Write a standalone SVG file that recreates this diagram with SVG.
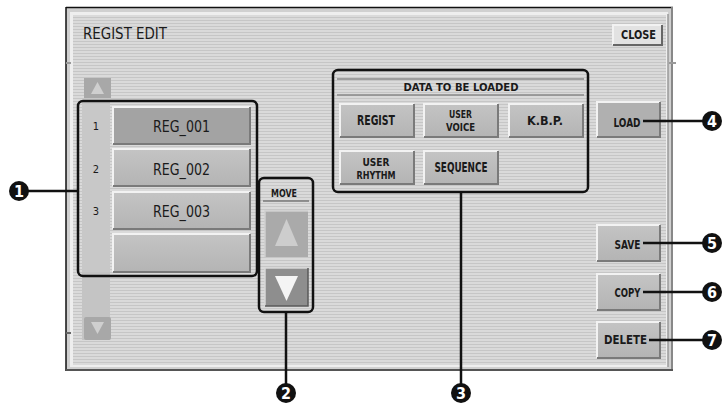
<svg xmlns="http://www.w3.org/2000/svg" width="723" height="411" viewBox="0 0 723 411">
<defs>
<pattern id="stripes" width="4" height="3" patternUnits="userSpaceOnUse">
<rect width="4" height="3" fill="#dadada"/>
<rect y="2" width="4" height="1" fill="#c6c6c6"/>
</pattern>
<linearGradient id="btn" x1="0" y1="0" x2="0" y2="1">
<stop offset="0" stop-color="#c4c4c4"/><stop offset="1" stop-color="#b4b4b4"/>
</linearGradient>
</defs>
<style>
.btn{fill:url(#btn);stroke:none}
.hl{fill:none;stroke:#f2f2f2;stroke-width:2}
.sh{fill:none;stroke:#7a7a7a;stroke-width:2}
.lbl{font-family:"DejaVu Sans Condensed","DejaVu Sans",sans-serif;font-weight:bold;fill:#1a1a1a;text-anchor:middle}
.reg{font-family:"DejaVu Sans Condensed","DejaVu Sans",sans-serif;fill:#1a1a1a;text-anchor:middle;font-size:15px}
.num{font-family:"DejaVu Sans Condensed","DejaVu Sans",sans-serif;fill:#1a1a1a;text-anchor:middle;font-size:11px}
.grp{fill:none;stroke:#111;stroke-width:2.5}
.conn{stroke:#111;stroke-width:2.5;fill:none}
.callout circle{fill:#111}
.callout text{font-family:"DejaVu Sans Condensed","Liberation Sans",sans-serif;font-weight:bold;font-size:16px;fill:#fff;text-anchor:middle}
</style>
<rect width="723" height="411" fill="#fff"/>
<!-- panel -->
<g id="panel">
<rect x="66" y="7" width="607" height="364" fill="#d0d0d0"/>
<line x1="66" y1="7" x2="66" y2="371" stroke="#111" stroke-width="1.5"/>
<line x1="66" y1="7.5" x2="673" y2="7.5" stroke="#111" stroke-width="1.5"/>
<line x1="672" y1="7" x2="672" y2="371" stroke="#888" stroke-width="2"/>
<line x1="66" y1="370" x2="673" y2="370" stroke="#555" stroke-width="2"/>
<rect x="70" y="12" width="598" height="355" fill="#eeeeee"/>
<rect x="73" y="15" width="593" height="350" fill="url(#stripes)"/>
<line x1="668" y1="14" x2="668" y2="367" stroke="#9a9a9a" stroke-width="1.5"/>
<line x1="66" y1="63" x2="71" y2="63" stroke="#999" stroke-width="2"/>
<line x1="66" y1="333" x2="71" y2="333" stroke="#666" stroke-width="2"/>
<line x1="669" y1="63" x2="676" y2="63" stroke="#999" stroke-width="2"/>
<text x="83" y="39" font-family="DejaVu Sans Condensed, DejaVu Sans, sans-serif" font-size="16.5" fill="#1a1a1a" textLength="84" lengthAdjust="spacingAndGlyphs">REGIST EDIT</text>
</g>
<g id="close">
<rect x="613" y="25" width="49" height="20" fill="#e2e2e2"/>
<path d="M613 45V25H662" class="hl"/><path d="M613 45H662V25" stroke="#666" stroke-width="2" fill="none"/>
<text x="638.5" y="39" class="lbl" font-size="12" textLength="35" lengthAdjust="spacingAndGlyphs">CLOSE</text>
</g>
<!-- scroll column -->
<g id="scroll">
<rect x="82" y="100" width="28" height="240" fill="#c4c4c4"/>
<rect x="84" y="78" width="27" height="20" fill="#a8a8a8"/>
<path d="M97.5 82L104 94H91Z" fill="#cfcfcf"/>
<rect x="84" y="317" width="27" height="23" rx="2" fill="#a8a8a8"/>
<path d="M91 322H104L97.5 334Z" fill="#cfcfcf"/>
</g>
<!-- list -->
<g id="list">
<rect x="82" y="104" width="28" height="168" fill="#c8c8c8"/>
<g id="reg001">
<rect x="113" y="107" width="137" height="37" fill="#a3a3a3"/>
<path d="M113 144V107H250" class="hl"/><path d="M113 144H250V107" class="sh"/>
<text x="96" y="130" class="num">1</text>
<text x="181.5" y="132" class="reg" textLength="57" lengthAdjust="spacingAndGlyphs">REG_001</text>
</g>
<g id="reg002">
<rect x="113" y="149" width="137" height="37" class="btn"/>
<path d="M113 186V149H250" class="hl"/><path d="M113 186H250V149" class="sh"/>
<text x="96" y="173" class="num">2</text>
<text x="181.5" y="175" class="reg" textLength="57" lengthAdjust="spacingAndGlyphs">REG_002</text>
</g>
<g id="reg003">
<rect x="113" y="192" width="137" height="37" class="btn"/>
<path d="M113 229V192H250" class="hl"/><path d="M113 229H250V192" class="sh"/>
<text x="96" y="215" class="num">3</text>
<text x="181.5" y="217" class="reg" textLength="57" lengthAdjust="spacingAndGlyphs">REG_003</text>
</g>
<g id="regempty">
<rect x="113" y="234" width="137" height="38" class="btn"/>
<path d="M113 272V234H250" class="hl"/><path d="M113 272H250V234" class="sh"/>
</g>
<rect x="78" y="101" width="179" height="175" rx="5" class="grp"/>
</g>
<!-- move -->
<g id="move">
<text x="284" y="197" class="lbl" font-size="11" textLength="26" lengthAdjust="spacingAndGlyphs">MOVE</text>
<line x1="263" y1="201" x2="309" y2="201" stroke="#777" stroke-width="1.5"/>
<g id="move-up">
<rect x="265" y="211" width="43" height="46" fill="#aaaaaa"/>
<path d="M265 257V211H308" fill="none" stroke="#cfcfcf" stroke-width="1.5"/>
<path d="M286.5 219L298 246H275Z" fill="#cdcdcd"/>
</g>
<g id="move-down">
<rect x="265" y="268" width="43" height="38" fill="#8e8e8e"/>
<path d="M265 306V268H308" fill="none" stroke="#d8d8d8" stroke-width="1.5"/>
<path d="M265 306H308V268" fill="none" stroke="#5a5a5a" stroke-width="1.5"/>
<path d="M275 276H298L286.5 301Z" fill="#f4f4f4"/>
</g>
<rect x="259" y="178" width="54" height="134" rx="5" class="grp"/>
</g>
<!-- data to be loaded -->
<g id="data">
<line x1="337" y1="79" x2="584" y2="79" stroke="#888" stroke-width="1.5"/>
<text x="461" y="91" class="lbl" font-size="10.5" textLength="115" lengthAdjust="spacingAndGlyphs">DATA TO BE LOADED</text>
<line x1="337" y1="95" x2="584" y2="95" stroke="#888" stroke-width="1.5"/>
<g id="regist">
<rect x="340" y="104" width="74" height="33" class="btn"/>
<path d="M340 137V104H414" class="hl"/><path d="M340 137H414V104" class="sh"/>
<text x="376" y="125" class="lbl" font-size="14.5" textLength="38" lengthAdjust="spacingAndGlyphs">REGIST</text>
</g>
<g id="uservoice">
<rect x="424" y="104" width="74" height="33" class="btn"/>
<path d="M424 137V104H498" class="hl"/><path d="M424 137H498V104" class="sh"/>
<text x="460.5" y="117.5" class="lbl" font-size="11" textLength="23" lengthAdjust="spacingAndGlyphs">USER</text>
<text x="460.5" y="130.5" class="lbl" font-size="11" textLength="29" lengthAdjust="spacingAndGlyphs">VOICE</text>
</g>
<g id="kbp">
<rect x="509" y="104" width="74" height="33" class="btn"/>
<path d="M509 137V104H583" class="hl"/><path d="M509 137H583V104" class="sh"/>
<text x="545" y="125" class="lbl" font-size="13" textLength="36" lengthAdjust="spacingAndGlyphs">K.B.P.</text>
</g>
<g id="userrhythm">
<rect x="340" y="151" width="74" height="33" class="btn"/>
<path d="M340 184V151H414" class="hl"/><path d="M340 184H414V151" class="sh"/>
<text x="376" y="165.5" class="lbl" font-size="11" textLength="27" lengthAdjust="spacingAndGlyphs">USER</text>
<text x="376" y="178.5" class="lbl" font-size="11" textLength="39" lengthAdjust="spacingAndGlyphs">RHYTHM</text>
</g>
<g id="sequence">
<rect x="424" y="151" width="74" height="33" class="btn"/>
<path d="M424 184V151H498" class="hl"/><path d="M424 184H498V151" class="sh"/>
<text x="461" y="172" class="lbl" font-size="13.5" textLength="53" lengthAdjust="spacingAndGlyphs">SEQUENCE</text>
</g>
<rect x="333" y="70" width="255" height="122" rx="5" class="grp"/>
</g>
<g id="load">
<rect x="597" y="102" width="63" height="35" fill="#b0b0b0"/>
<path d="M597 137V102H660" class="hl"/><path d="M597 137H660V102" class="sh"/>
<text x="627" y="127" class="lbl" font-size="12.5" textLength="27" lengthAdjust="spacingAndGlyphs">LOAD</text>
</g>
<g id="save">
<rect x="597" y="225" width="63" height="36" class="btn"/>
<path d="M597 261V225H660" class="hl"/><path d="M597 261H660V225" class="sh"/>
<text x="627.5" y="249" class="lbl" font-size="12" textLength="26" lengthAdjust="spacingAndGlyphs">SAVE</text>
</g>
<g id="copy">
<rect x="597" y="274" width="63" height="36" class="btn"/>
<path d="M597 310V274H660" class="hl"/><path d="M597 310H660V274" class="sh"/>
<text x="627.5" y="297" class="lbl" font-size="12" textLength="26" lengthAdjust="spacingAndGlyphs">COPY</text>
</g>
<g id="delete">
<rect x="597" y="322" width="63" height="36" class="btn"/>
<path d="M597 358V322H660" class="hl"/><path d="M597 358H660V322" class="sh"/>
<text x="625.5" y="344" class="lbl" font-size="12" textLength="43" lengthAdjust="spacingAndGlyphs">DELETE</text>
</g>
<!-- connectors -->
<g id="connectors">
<line x1="28" y1="191" x2="78" y2="191" class="conn"/>
<line x1="286" y1="312" x2="286" y2="384" class="conn"/>
<line x1="461" y1="192" x2="461" y2="384" class="conn"/>
<line x1="643" y1="121" x2="704" y2="121" class="conn"/>
<line x1="643" y1="243" x2="704" y2="243" class="conn"/>
<line x1="643" y1="292" x2="704" y2="292" class="conn"/>
<line x1="649" y1="340" x2="704" y2="340" class="conn"/>
</g>
<g id="c1" class="callout"><circle cx="19" cy="191" r="10"/><text x="19" y="197">1</text></g>
<g id="c2" class="callout"><circle cx="286" cy="393" r="10"/><text x="286" y="399">2</text></g>
<g id="c3" class="callout"><circle cx="461" cy="393" r="10"/><text x="461" y="399">3</text></g>
<g id="c4" class="callout"><circle cx="712" cy="121" r="10"/><text x="712" y="127">4</text></g>
<g id="c5" class="callout"><circle cx="712" cy="243" r="10"/><text x="712" y="249">5</text></g>
<g id="c6" class="callout"><circle cx="712" cy="292" r="10"/><text x="712" y="298">6</text></g>
<g id="c7" class="callout"><circle cx="712" cy="340" r="10"/><text x="712" y="346">7</text></g>
</svg>
